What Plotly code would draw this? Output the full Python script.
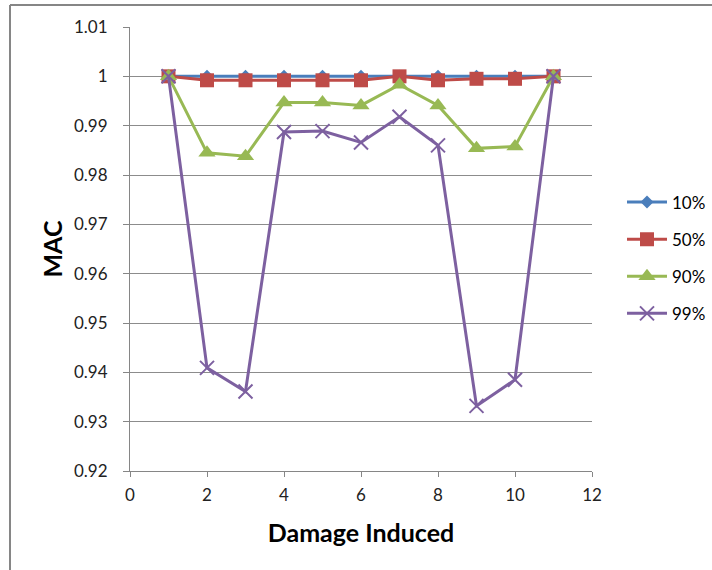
import plotly.graph_objects as go

damage = [1, 2, 3, 4, 5, 6, 7, 8, 9, 10, 11]
mac_10 = [1.0, 1.0, 1.0, 1.0, 1.0, 1.0, 1.0, 1.0, 1.0, 1.0, 1.0]
mac_50 = [1.0, 0.9992, 0.9992, 0.9992, 0.9992, 0.9992, 1.0, 0.9992, 0.9995, 0.9995, 1.0]
mac_90 = [1.0, 0.9845, 0.9838, 0.9947, 0.9947, 0.9941, 0.9983, 0.9941, 0.9854, 0.9858, 1.0]
mac_99 = [1.0, 0.9409, 0.9361, 0.9887, 0.9889, 0.9866, 0.9918, 0.9860, 0.9332, 0.9385, 1.0]
series_names = ["10%", "50%", "90%", "99%"]
y_ticks = [0.92, 0.93, 0.94, 0.95, 0.96, 0.97, 0.98, 0.99, 1.0, 1.01]
y_tick_text = ["0.92", "0.93", "0.94", "0.95", "0.96", "0.97", "0.98", "0.99", "1", "1.01"]
x_ticks = [0, 2, 4, 6, 8, 10, 12]

colors = ["#4A7EBB", "#BE4B48", "#98B954", "#7D60A0"]
symbols = ["diamond", "square", "triangle-up", "x-thin"]
sizes = [10, 14, 15, 14]
series = [mac_10, mac_50, mac_90, mac_99]

fig = go.Figure()
for name, vals, c, s, sz in zip(series_names, series, colors, symbols, sizes):
    marker = dict(symbol=s, size=sz, color=c)
    if s == "x-thin":
        marker["line"] = dict(color=c, width=2)
    fig.add_trace(go.Scatter(
        x=damage, y=vals, name=name, mode="lines+markers",
        line=dict(color=c, width=3), marker=marker, legendgroup=name,
    ))

FONT = "Lato"
fig.update_layout(
    width=712, height=570,
    margin=dict(l=130, r=120, t=27, b=99, autoexpand=False),
    paper_bgcolor="white", plot_bgcolor="white",
    font=dict(family=FONT, color="#000000", size=17),
    showlegend=True,
    legend=dict(xref="container", yref="container", x=0.8736, y=(570 - 258) / 570,
                xanchor="left", yanchor="middle",
                font=dict(family=FONT, size=17), traceorder="grouped",
                tracegroupgap=12, itemwidth=40, bgcolor="rgba(0,0,0,0)"),
    xaxis=dict(range=[0, 12], tickvals=x_ticks, showgrid=False,
               showline=True, linecolor="#868686", linewidth=1,
               ticks="outside", ticklen=5, tickcolor="#868686", ticklabelstandoff=4,
               tickfont=dict(family=FONT, size=17, color="#222222"), zeroline=False,
               title=dict(text="<b>Damage Induced</b>", font=dict(family=FONT, size=25), standoff=20)),
    yaxis=dict(range=[0.92, 1.01], tickvals=y_ticks, ticktext=y_tick_text,
               showgrid=True, gridcolor="#8C8C8C", gridwidth=1,
               showline=True, linecolor="#868686", linewidth=1,
               ticks="outside", ticklen=6, tickcolor="#868686", ticklabelstandoff=12,
               tickfont=dict(family=FONT, size=17, color="#222222"), zeroline=False,
               title=dict(text="<b>MAC</b>", font=dict(family=FONT, size=25), standoff=4)),
    shapes=[
        dict(type="line", xref="paper", yref="paper", x0=-120 / 462, x1=-120 / 462, y0=466 / 444, y1=-1,
             line=dict(color="#868686", width=2)),
        dict(type="line", xref="paper", yref="paper", x0=-120 / 462, x1=2, y0=466 / 444, y1=466 / 444,
             line=dict(color="#868686", width=2)),
    ],
)
fig.write_html("out.html")
